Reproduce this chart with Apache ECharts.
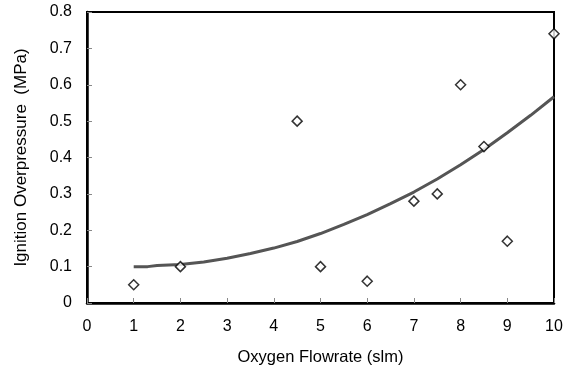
<!DOCTYPE html>
<html><head><meta charset="utf-8">
<script src="https://cdn.jsdelivr.net/npm/echarts@6/dist/echarts.min.js"></script>
<style>html,body{margin:0;padding:0;background:#fff}#c{width:569px;height:373px}</style>
</head><body><div id="c"></div>
<script>
const flowrate = [1, 2, 4.5, 5, 6, 7, 7.5, 8, 8.5, 9, 10];
const overpressure = [0.05, 0.10, 0.50, 0.10, 0.06, 0.28, 0.30, 0.60, 0.43, 0.17, 0.74];
const trendX = [1, 1.3, 1.5, 2, 2.5, 3, 3.5, 4, 4.5, 5, 5.5, 6, 6.5, 7, 7.5, 8, 8.5, 9, 9.5, 10];
const trendY = [0.100, 0.100, 0.103, 0.106, 0.113, 0.123, 0.136, 0.151, 0.169, 0.191, 0.216, 0.243, 0.273, 0.305, 0.341, 0.380, 0.422, 0.468, 0.516, 0.567];
const xTicks = [0, 1, 2, 3, 4, 5, 6, 7, 8, 9, 10];
const yTicks = [0, 0.1, 0.2, 0.3, 0.4, 0.5, 0.6, 0.7, 0.8];

const font = 'Liberation Sans, Arial, sans-serif';
const chart = echarts.init(document.getElementById('c'), null, {renderer: 'canvas'});
chart.setOption({
  animation: false,
  grid: {left: 87, right: 15, top: 12, bottom: 70, show: true, borderColor: '#000', borderWidth: 2, backgroundColor: 'transparent'},
  xAxis: {
    type: 'value', min: xTicks[0], max: xTicks[xTicks.length - 1], interval: 1,
    name: 'Oxygen Flowrate (slm)', nameLocation: 'middle', nameGap: 46,
    nameTextStyle: {fontFamily: font, fontSize: 16.5, color: '#000'},
    axisLine: {show: true, lineStyle: {color: '#000', width: 2.5}},
    axisTick: {show: true, inside: true, length: 5, lineStyle: {color: '#888'}},
    axisLabel: {fontFamily: font, fontSize: 16, color: '#000', margin: 16},
    splitLine: {show: false}
  },
  yAxis: {
    type: 'value', min: yTicks[0], max: yTicks[yTicks.length - 1], interval: 0.1,
    name: 'Ignition Overpressure  (MPa)', nameLocation: 'middle', nameGap: 57,
    nameTextStyle: {fontFamily: font, fontSize: 17, color: '#000'},
    axisLine: {show: true, lineStyle: {color: '#000', width: 2.5}},
    axisTick: {show: true, inside: true, length: 5, lineStyle: {color: '#888'}},
    axisLabel: {fontFamily: font, fontSize: 16, color: '#000', margin: 15,
      formatter: v => v === 0 ? '0' : v.toFixed(1)},
    splitLine: {show: false}
  },
  series: [
    {
      type: 'line', data: trendX.map((x, i) => [x, trendY[i]]),
      symbol: 'none', smooth: false,
      lineStyle: {color: '#555', width: 3}, z: 2
    },
    {
      type: 'scatter', data: flowrate.map((x, i) => [x, overpressure[i]]),
      symbol: 'diamond', symbolSize: 10,
      itemStyle: {color: '#fff', borderColor: '#000', borderWidth: 1.5}, z: 3
    }
  ]
});
</script></body></html>
